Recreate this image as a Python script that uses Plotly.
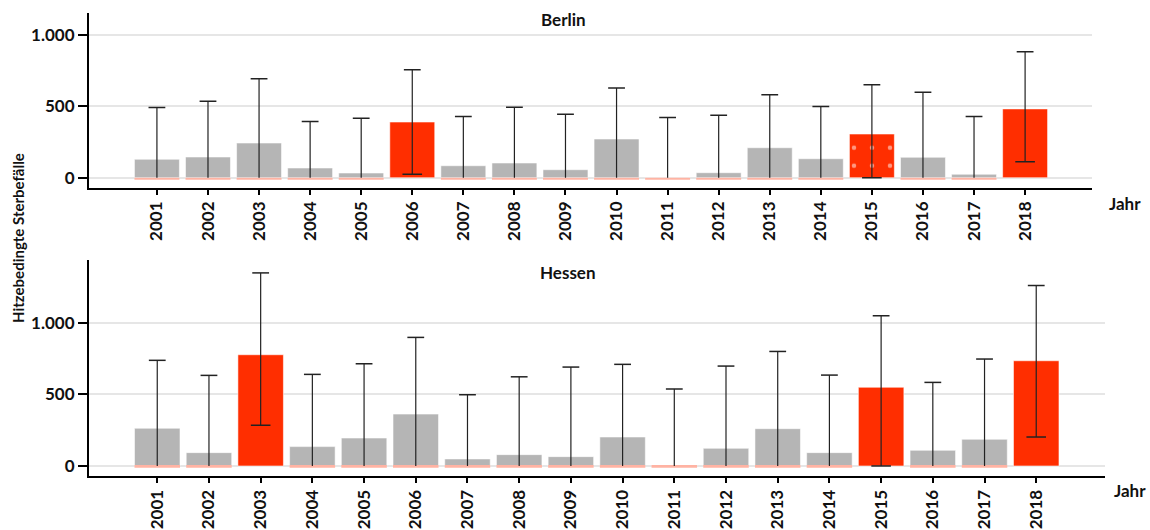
import plotly.graph_objects as go

years = [str(y) for y in range(2001, 2019)]

berlin_value = [129, 145, 243, 68, 33, 390, 84, 103, 56, 271, 3, 35, 210, 133, 306, 143, 24, 482]
berlin_upper = [491, 535, 694, 393, 416, 757, 428, 493, 444, 629, 421, 437, 582, 498, 652, 599, 428, 883]
berlin_lower = [0, 0, 0, 0, 0, 24, 0, 0, 0, 0, 0, 0, 0, 0, 0, 0, 0, 112]
berlin_hot = [False, False, False, False, False, True, False, False, False, False,
              False, False, False, False, True, False, False, True]
berlin_dotted = [False] * 14 + [True] + [False] * 3

hessen_value = [263, 93, 776, 135, 195, 362, 49, 79, 65, 202, 3, 123, 260, 93, 549, 109, 186, 734]
hessen_upper = [737, 632, 1347, 639, 713, 897, 497, 622, 690, 709, 537, 697, 799, 634, 1048, 583, 746, 1259]
hessen_lower = [0, 0, 284, 0, 0, 0, 0, 0, 0, 0, 0, 0, 0, 0, 0, 0, 0, 202]
hessen_hot = [False, False, True, False, False, False, False, False, False, False,
              False, False, False, False, True, False, False, True]
hessen_dotted = [False] * 18

y_ticks = [0, 500, 1000]
titles = ["Berlin", "Hessen"]
x_title = "Jahr"
y_title = "Hitzebedingte Sterbefälle"

GRAY = "#b5b5b5"
RED = "#ff2e00"
PINK = "#ffb3a3"
FONT = "Lato"

fig = go.Figure()


def add_panel(vals, up, lo, hot, dotted, xa, ya):
    colors = [RED if h else GRAY for h in hot]
    fig.add_trace(go.Bar(
        x=years, y=vals, xaxis=xa, yaxis=ya, width=0.88,
        marker=dict(color=colors, line=dict(color="rgba(255,255,255,0.55)", width=1),
                    pattern=dict(shape=["." if d else "" for d in dotted],
                                 fgcolor="#ffd0c0", fillmode="overlay", size=18, solidity=0.05)),
        showlegend=False, hoverinfo="skip"))
    # pink base line under non-highlighted bars
    fig.add_trace(go.Bar(
        x=years, y=[None if h else -12 for h in hot], base=0, xaxis=xa, yaxis=ya, width=0.88,
        marker=dict(color=PINK, line=dict(width=0)), showlegend=False, hoverinfo="skip"))
    # error bars
    ex, ey = [], []
    for yr, l, u in zip(years, lo, up):
        ex += [yr, yr, None]
        ey += [l, u, None]
    fig.add_trace(go.Scatter(x=ex, y=ey, mode="lines", xaxis=xa, yaxis=ya,
                             line=dict(color="#222", width=1.2), showlegend=False, hoverinfo="skip"))
    fig.add_trace(go.Scatter(x=years, y=up, mode="markers", xaxis=xa, yaxis=ya,
                             marker=dict(symbol="line-ew", size=12, line=dict(color="#222", width=1.5)),
                             showlegend=False, hoverinfo="skip"))
    fig.add_trace(go.Scatter(x=[y for y, h in zip(years, hot) if h],
                             y=[l for l, h in zip(lo, hot) if h], mode="markers", xaxis=xa, yaxis=ya,
                             marker=dict(symbol="line-ew", size=14, line=dict(color="#222", width=1.5)),
                             showlegend=False, hoverinfo="skip"))


add_panel(berlin_value, berlin_upper, berlin_lower, berlin_hot, berlin_dotted, "x", "y")
add_panel(hessen_value, hessen_upper, hessen_lower, hessen_hot, hessen_dotted, "x2", "y2")

W, H = 1150, 530


def xaxis(dom, anchor):
    return dict(domain=dom, anchor=anchor, type="category", range=[-1.33, 18.31],
                showline=True, linecolor="black", linewidth=2, showgrid=False, zeroline=False,
                ticks="outside", ticklen=5, tickwidth=1.5, tickcolor="black", tickangle=-90,
                tickfont=dict(family=FONT, size=17, color="#111", weight="bold"))


def yaxis(dom, anchor, rng):
    return dict(domain=dom, anchor=anchor, range=rng, tickvals=y_ticks, separatethousands=True,
                showline=True, linecolor="black", linewidth=2, showgrid=True,
                gridcolor="#e6e6e6", gridwidth=1.5, zeroline=False,
                ticks="outside", ticklen=9, tickwidth=1.5, tickcolor="black",
                tickfont=dict(family=FONT, size=17, color="#111", weight="bold"))


fig.update_layout(
    width=W, height=H, margin=dict(l=0, r=0, t=0, b=0),
    plot_bgcolor="white", paper_bgcolor="white", separators=",.",
    barmode="overlay", bargap=0.1,
    xaxis=xaxis([89 / W, 1092 / W], "y"),
    yaxis=yaxis([1 - 187.7 / H, 1 - 12.7 / H], "x", [-70, 1156]),
    xaxis2=xaxis([89 / W, 1105 / W], "y2"),
    yaxis2=yaxis([1 - 476 / H, 1 - 260 / H], "x2", [-70, 1437]),
)
fig.layout.xaxis2.range = [-1.32, 18.33]

tfont = dict(family=FONT, size=17, color="#111", weight="bold")
ann = [
    dict(text=titles[0], x=563 / W, y=1 - 20 / H, font=tfont),
    dict(text=titles[1], x=568 / W, y=1 - 272 / H, font=tfont),
    dict(text=x_title, x=1125 / W, y=1 - 203 / H, font=tfont),
    dict(text=x_title, x=1130 / W, y=1 - 490 / H, font=tfont),
    dict(text=y_title, x=18 / W, y=1 - 238 / H, textangle=-90,
         font=dict(family=FONT, size=15, color="#111", weight="bold")),
]
for a in ann:
    a.update(xref="paper", yref="paper", showarrow=False, xanchor="center", yanchor="middle")
fig.update_layout(annotations=ann)

fig.write_html("out.html", config={"displayModeBar": False},
               post_script="document.body.style.margin='0';document.body.style.overflow='hidden';")
